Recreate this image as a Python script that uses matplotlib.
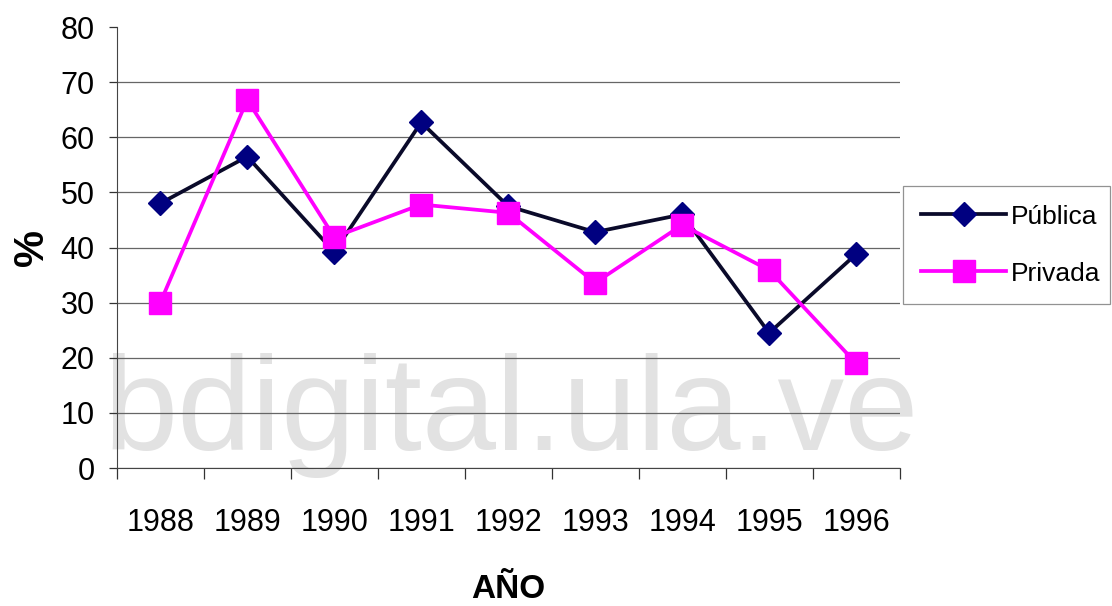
import matplotlib
matplotlib.use('Agg')
from matplotlib import pyplot as plt

years = ['1988', '1989', '1990', '1991', '1992', '1993', '1994', '1995', '1996']
publica = [48.0, 56.5, 39.2, 62.7, 47.5, 42.8, 46.0, 24.5, 38.8]
privada = [30.0, 66.8, 41.9, 47.8, 46.3, 33.6, 44.1, 35.9, 19.0]

plt.rcParams['font.family'] = ['Liberation Sans', 'DejaVu Sans']

fig = plt.figure(figsize=(11.12, 6.06), dpi=100)
ax = fig.add_axes([0.105, 0.2277, 0.704, 0.7277])

x = list(range(len(years)))
ax.plot(x, publica, color='#0a0a2a', lw=2.7, marker='D', ms=12,
        mfc='#000080', mec='#000080', label='Pública', zorder=3)
ax.plot(x, privada, color='#ff00ff', lw=2.7, marker='s', ms=16,
        mfc='#ff00ff', mec='#ff00ff', label='Privada', zorder=3)

ax.set_xlim(-0.5, len(years) - 0.5)
ax.set_ylim(0, 80)
ax.set_yticks(range(0, 81, 10))
ax.set_xticks(x)
ax.set_xticklabels(years)
ax.set_xticks([i - 0.5 for i in range(len(years) + 1)], minor=True)
ax.tick_params(axis='x', which='major', length=0, pad=29, labelsize=22)
ax.tick_params(axis='x', which='minor', length=8, width=0.9, color='#333333')
ax.tick_params(axis='y', length=6, width=0.9, color='#333333', pad=10, labelsize=22)

ax.set_axisbelow(True)
ax.yaxis.grid(True, color='#666666', lw=0.9)
ax.yaxis.get_gridlines()[-1].set_visible(False)
for s in ['top', 'right']:
    ax.spines[s].set_visible(False)
ax.spines['left'].set_color('#444444')
ax.spines['bottom'].set_color('#444444')

ax.set_ylabel('%', fontsize=30, fontweight='bold')
ax.yaxis.set_label_coords(-0.083, 0.5)
ax.set_xlabel('AÑO', fontsize=24, fontweight='bold', labelpad=26)

# watermark
ax.text(0.4595, 0.257, 'bdigital.ula.ve', transform=fig.transFigure, fontsize=96,
        color='#e2e2e2', ha='center', va='baseline', zorder=0.2, clip_on=False)

leg = ax.legend(loc='center', bbox_to_anchor=(0.812, 0.493, 0.186, 0.205),
                bbox_transform=fig.transFigure, mode='expand', fontsize=19,
                frameon=True, fancybox=False, edgecolor='#777777',
                handlelength=3.2, handletextpad=0.2, labelspacing=1.25,
                borderpad=0.7, borderaxespad=0)
leg.get_frame().set_linewidth(0.9)

fig.savefig('out.png', dpi=100)
